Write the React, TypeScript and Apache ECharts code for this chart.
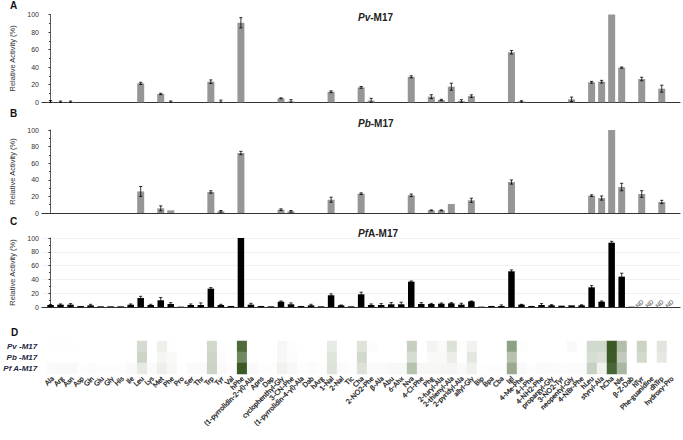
import React, { useEffect, useRef } from "react";
import * as echarts from "echarts";

const categories = [
  "Ala", "Arg", "Asn", "Asp", "Gln", "Glu", "Gly", "His", "Ile", "Leu",
  "Lys", "Met", "Phe", "Pro", "Ser", "Thr", "Trp", "Tyr", "Val", "hPhe",
  "(1-pyrrolidin-2-yl)-Ala", "Apns", "Dap", "cyclophenthyl-Gly", "3-CN-Phe",
  "(1-pyrrolidin-4-yl)-Ala", "Dab", "hArg", "1-Nal", "2-Nal",
  "Tic", "Cha", "2-NO2-Phe", "β-Ala", "Abu", "6-Ahx", "Nva", "4-Cl-Phe", "Phg", "2-furyl-Ala",
  "2-thienyl-Ala", "2-pyridyl-Ala", "allyl-Gly", "Bip", "Bpa", "Cba", "Igl", "4-Me-Phe", "4-I-Phe", "4-NH2-Phe",
  "propargyl-Gly", "3-NO2-Tyr", "neopentyl-Gly", "4-NBr-Phe", "hLeu", "styryl-Ala", "hCha", "Nle", "β-Z-Dab", "hTyr",
  "Phe-guanidine", "dhTrp", "hydroxy-Pro",
];

// Panel A: Pv-M17
const pvValues = [
  0.5, 0.4, 0.4, 0, 0, 0, 0, 0, 0, 21.6,
  0, 9.5, 0.5, 0, 0, 0, 23.5, 0.5, 0, 90.6,
  0, 0, 0, 4.5, 1, 0, 0, 0, 12, 0,
  0, 17, 2, 0, 0, 0, 29, 0, 6.4, 2.6,
  17.8, 1.5, 7, 0, 0, 0, 57, 1, 0, 0,
  0, 0, 3.4, 0, 22.8, 23.5, 100, 39.5, 0, 26.5,
  0, 15.5, 0,
];
const pvErrors = [
  1.5, 1, 1, 0, 0, 0, 0, 0, 0, 1.2,
  0, 0.8, 1, 0, 0, 0, 2, 2, 0, 5.8,
  0, 0, 0, 0.6, 2, 0, 0, 0, 1, 0,
  0, 1, 2.5, 0, 0, 0, 1.2, 0, 2.2, 0.8,
  4, 1.5, 1.5, 0, 0, 0, 2, 0.8, 0, 0,
  0, 0, 2.5, 0, 1, 1.5, 0, 0.7, 0, 2,
  0, 4, 0,
];

// Panel B: Pb-M17
const pbValues = [
  0, 0, 0, 0, 0, 0, 0, 0, 0, 26,
  0, 5.6, 3.2, 0, 0, 0, 25.3, 2, 0, 72.3,
  0, 0, 0, 4, 2, 0, 0, 0, 16, 0,
  0, 23.3, 0, 0, 0, 0, 21.3, 0, 3.2, 3.2,
  10.8, 0, 15.3, 0, 0, 0, 37.3, 0, 0, 0,
  0, 0, 0, 0, 20.9, 18, 100, 31.3, 0, 22.9,
  0, 13.3, 0,
];
const pbErrors = [
  0, 0, 0, 0, 0, 0, 0, 0, 0, 6,
  0, 3, 0, 0, 0, 0, 1.5, 1, 0, 2,
  0, 0, 0, 1, 1, 0, 0, 0, 3, 0,
  0, 1, 0, 0, 0, 0, 1.5, 0, 0.5, 0.5,
  0, 0, 2.5, 0, 0, 0, 2.5, 0, 0, 0,
  0, 0, 0, 0, 1, 2.5, 0, 4.5, 0, 4,
  0, 2, 0,
];

// Panel C: PfA-M17 (null = ND)
const pfValues = [
  2.9, 3.4, 3.4, 1.4, 2.4, 1, 1, 1, 3.4, 13,
  2.9, 9.7, 4.3, 0.5, 2.9, 2.9, 26.6, 2.9, 1.5, 100,
  3.4, 1.5, 1, 7.7, 3.9, 1.5, 2.4, 1, 17, 2.4,
  1, 18.4, 2.9, 2.9, 3.9, 3.9, 36.7, 4.3, 4.3, 4.8,
  5.3, 3.4, 8.2, 0.5, 1.5, 1.5, 51.7, 3.4, 1.5, 2.9,
  2.4, 1.9, 2.4, 2.4, 28.5, 7.7, 93.2, 44, 0.4, null,
  null, null, null,
];
const pfErrors = [
  0.5, 1, 1.5, 0, 1.5, 0, 0, 0, 1, 2.5,
  1, 4, 2, 0, 1.5, 3, 1.5, 1, 0, 0,
  2, 0, 0, 1, 2, 0, 1.5, 0, 2, 0.5,
  0, 3, 1.5, 2, 2.5, 3, 1, 2, 1, 1,
  1, 2, 0.5, 0, 0, 1.5, 2, 0.5, 0, 2,
  1, 0, 0, 0.8, 2.5, 1, 2, 5, 0, 0,
  0, 0, 0,
];

const yTicks = [0, 20, 40, 60, 80, 100];
const heatRows = ["Pv -M17", "Pb -M17", "Pf A-M17"];

const X_MIN = -0.85;
const X_MAX = 62.82;

function errorRenderItem(params: any, api: any) {
  const i = api.value(0);
  const v = api.value(1);
  const e = api.value(2);
  if (!e) return null;
  const top = api.coord([i, v + e]);
  const bot = api.coord([i, Math.max(0, v - e)]);
  const cap = 1.6;
  const style = { stroke: "#000", lineWidth: 0.8 };
  return {
    type: "group",
    children: [
      { type: "line", shape: { x1: top[0], y1: top[1], x2: bot[0], y2: bot[1] }, style },
      { type: "line", shape: { x1: top[0] - cap, y1: top[1], x2: top[0] + cap, y2: top[1] }, style },
      { type: "line", shape: { x1: bot[0] - cap, y1: bot[1], x2: bot[0] + cap, y2: bot[1] }, style },
    ],
  };
}

export default function App() {
  const ref = useRef<HTMLDivElement>(null);

  useEffect(() => {
    if (!ref.current) return;
    const chart = echarts.init(ref.current, undefined, { renderer: "svg" });

    const grids = [
      { left: 42, right: 3, top: 14.5, height: 87.8 },
      { left: 42, right: 3, top: 130, height: 83 },
      { left: 42, right: 3, top: 238, height: 69 },
      { left: 45.5, width: 631.5, top: 341, height: 33 },
    ];

    const barX = [0, 1, 2].map((g) => ({
      type: "value",
      gridIndex: g,
      min: X_MIN,
      max: X_MAX,
      axisLabel: { show: false },
      axisTick: { show: false },
      splitLine: { show: false },
      axisLine: { show: true, onZero: false, lineStyle: { color: "#333", width: 1.2 } },
    }));

    const barY = [0, 1, 2].map((g) => ({
      type: "value",
      gridIndex: g,
      min: yTicks[0],
      max: yTicks[yTicks.length - 1],
      interval: 20,
      name: "Relative Activity (%)",
      nameLocation: "middle",
      nameGap: 23,
      nameTextStyle: { fontSize: 7.5, color: "#333", fontFamily: "Liberation Sans" },
      axisLabel: { fontSize: 7, color: "#333", margin: 3, fontFamily: "Liberation Sans" },
      axisLine: { show: true, lineStyle: { color: "#333", width: 0.8 } },
      axisTick: { show: true, length: 2, lineStyle: { color: "#333" } },
      minorTick: { show: true, splitNumber: 2, length: 1.5, lineStyle: { color: "#333" } },
      splitLine: { show: g === 2, lineStyle: { color: "#eeeeee", width: 0.8 } },
    }));

    const toBar = (vals: (number | null)[]) =>
      vals.map((v, i) => [i, v]).filter((d) => d[1] !== null);
    const toErr = (vals: (number | null)[], errs: number[]) =>
      vals.map((v, i) => [i, v, errs[i]]).filter((d) => d[1] !== null && (d[2] as number) > 0);

    const ndData = pfValues
      .map((v, i) => (v === null ? [i, 0] : null))
      .filter((d) => d !== null);

    const heatData: number[][] = [];
    [pvValues, pbValues, pfValues].forEach((row, r) => {
      row.forEach((v, i) => heatData.push([i, r, v === null ? -1 : v]));
    });

    const option: any = {
      animation: false,
      textStyle: { color: "#222" },
      grid: grids,
      xAxis: [
        ...barX,
        {
          type: "category",
          gridIndex: 3,
          data: categories,
          axisLine: { show: false },
          axisTick: { show: false },
          axisLabel: {
            interval: 0,
            rotate: 45,
            fontSize: 7,
            color: "#1a1a1a",
            textBorderColor: "#1a1a1a",
            textBorderWidth: 0.25,
            margin: 3,
            fontFamily: "Lato",
          },
        },
      ],
      yAxis: [
        ...barY,
        {
          type: "category",
          gridIndex: 3,
          data: heatRows,
          inverse: true,
          axisLine: { show: false },
          axisTick: { show: false },
          axisLabel: {
            fontSize: 8,
            fontWeight: "bold",
            fontStyle: "italic",
            color: "#1f2a44",
            margin: 10,
            fontFamily: "Liberation Sans",
          },
        },
      ],
      visualMap: {
        type: "continuous",
        show: false,
        seriesIndex: 7,
        dimension: 2,
        min: 0,
        max: 100,
        inRange: { color: ["#ffffff", "#3b5a26"] },
        outOfRange: { color: ["#000000"] },
      },
      series: [
        { type: "bar", xAxisIndex: 0, yAxisIndex: 0, data: toBar(pvValues), barWidth: 7, itemStyle: { color: "#969696" } },
        { type: "bar", xAxisIndex: 1, yAxisIndex: 1, data: toBar(pbValues), barWidth: 7, itemStyle: { color: "#969696" } },
        { type: "bar", xAxisIndex: 2, yAxisIndex: 2, data: toBar(pfValues), barWidth: 6.5, itemStyle: { color: "#000000" } },
        { type: "custom", xAxisIndex: 0, yAxisIndex: 0, renderItem: errorRenderItem, data: toErr(pvValues, pvErrors), encode: { x: 0, y: 1 }, z: 5 },
        { type: "custom", xAxisIndex: 1, yAxisIndex: 1, renderItem: errorRenderItem, data: toErr(pbValues, pbErrors), encode: { x: 0, y: 1 }, z: 5 },
        { type: "custom", xAxisIndex: 2, yAxisIndex: 2, renderItem: errorRenderItem, data: toErr(pfValues, pfErrors), encode: { x: 0, y: 1 }, z: 5 },
        {
          type: "scatter",
          xAxisIndex: 2,
          yAxisIndex: 2,
          data: ndData,
          symbolSize: 0,
          itemStyle: { color: "#555" },
          label: {
            show: true,
            formatter: "ND",
            position: "top",
            distance: 1,
            rotate: 45,
            fontSize: 6,
            color: "#555",
            textBorderColor: "#555",
            textBorderWidth: 0.2,
            fontFamily: "Liberation Sans",
          },
        },
        {
          type: "heatmap",
          xAxisIndex: 3,
          yAxisIndex: 3,
          data: heatData,
          emphasis: { disabled: true },
        },
      ],
      graphic: [
        { type: "text", left: 10, top: 0, style: { text: "A", fontSize: 10, fontWeight: "bold", fill: "#111", fontFamily: "Liberation Sans" } },
        { type: "text", left: 10, top: 108.5, style: { text: "B", fontSize: 10, fontWeight: "bold", fill: "#111", fontFamily: "Liberation Sans" } },
        { type: "text", left: 10, top: 216.5, style: { text: "C", fontSize: 10, fontWeight: "bold", fill: "#111", fontFamily: "Liberation Sans" } },
        { type: "text", left: 11, top: 327.5, style: { text: "D", fontSize: 10, fontWeight: "bold", fill: "#111", fontFamily: "Liberation Sans" } },
        {
          type: "text", left: 358, top: 12.5,
          style: {
            text: "{i|Pv}{b|-M17}", fill: "#222",
            rich: {
              i: { fontSize: 10, fontWeight: "bold", fontStyle: "italic", fontFamily: "Liberation Sans", fill: "#222" },
              b: { fontSize: 10, fontWeight: "bold", fontFamily: "Liberation Sans", fill: "#222" },
            },
          },
        },
        {
          type: "text", left: 358, top: 118.5,
          style: {
            text: "{i|Pb}{b|-M17}", fill: "#222",
            rich: {
              i: { fontSize: 10, fontWeight: "bold", fontStyle: "italic", fontFamily: "Liberation Sans", fill: "#222" },
              b: { fontSize: 10, fontWeight: "bold", fontFamily: "Liberation Sans", fill: "#222" },
            },
          },
        },
        {
          type: "text", left: 358, top: 228,
          style: {
            text: "{i|Pf}{b|A-M17}", fill: "#222",
            rich: {
              i: { fontSize: 10, fontWeight: "bold", fontStyle: "italic", fontFamily: "Liberation Sans", fill: "#222" },
              b: { fontSize: 10, fontWeight: "bold", fontFamily: "Liberation Sans", fill: "#222" },
            },
          },
        },
      ],
    };

    chart.setOption(option);
    return () => chart.dispose();
  }, []);

  return (
    <div
      ref={ref}
      style={{ position: "fixed", left: 0, top: 0, width: 683, height: 440, background: "#fff" }}
    />
  );
}
